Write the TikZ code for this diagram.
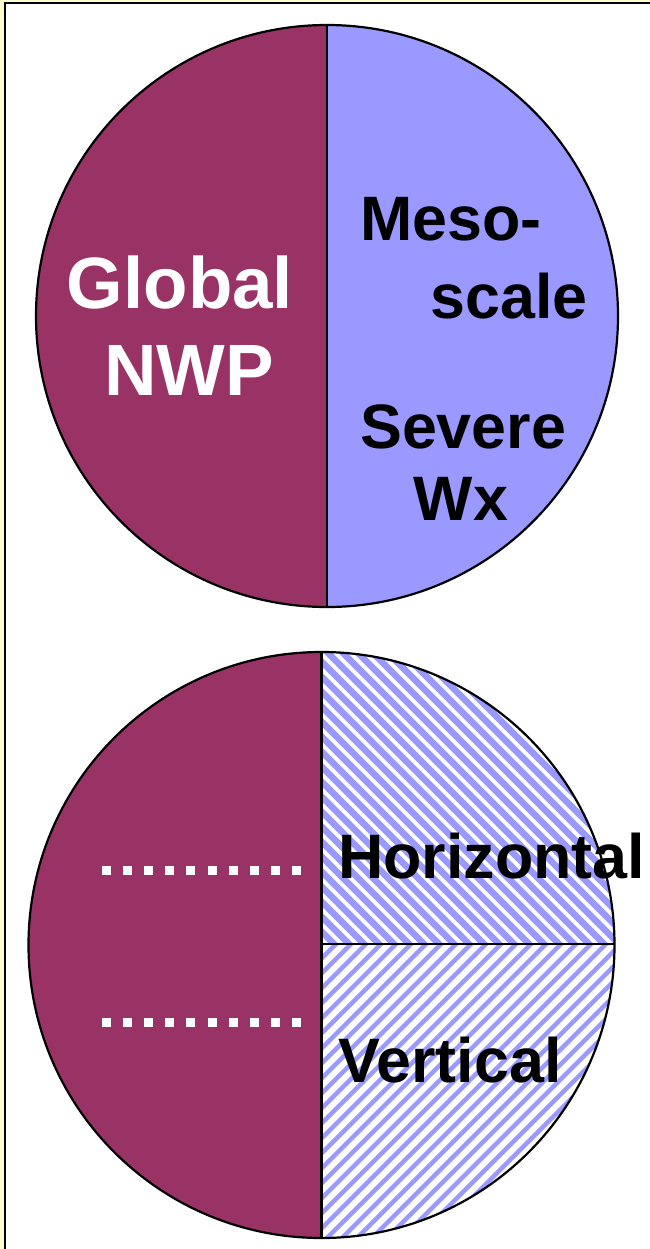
\documentclass[tikz,border=0pt]{standalone}
\usepackage{fontspec}
\setmainfont{Liberation Sans}
\usetikzlibrary{positioning}
\definecolor{plum}{HTML}{993366}
\definecolor{lavender}{HTML}{9999FF}
\definecolor{paleyellow}{HTML}{FFFFCC}
\tikzset{
  outline/.style={draw=black, line width=2.2bp},
  bigtext/.style={font=\fontsize{73}{80}\selectfont\bfseries, inner sep=0pt},
  midtext/.style={font=\fontsize{63}{70}\selectfont\bfseries, inner sep=0pt},
  hatchdense/.style={lavender, line width=6.6bp},
  hatchlight/.style={lavender, line width=4.4bp}
}

\begin{document}
\begin{tikzpicture}[x=1bp, y=-1bp]
    \useasboundingbox (0,0) rectangle (650,1249);
    \fill[paleyellow] (0,0) rectangle (650,1249);
    \filldraw[fill=white, draw=black, line width=2.5bp] (5.2,3.2) rectangle (680,1280);

    % upper disc
    \coordinate (top) at (327,316);
    \fill[plum] (327,25) arc[start angle=-90, end angle=-270, radius=291] -- cycle;
    \fill[lavender] (327,25) arc[start angle=-90, end angle=90, radius=291] -- cycle;
    \draw[outline] (top) circle[radius=291];
    \draw[outline] (327,25) -- (327,607);

    \node (global) [bigtext, white, anchor=base] at (180,308) {Global};
    \node (nwp) [bigtext, white, anchor=base] at (189,395) {NWP};
    \node (meso) [midtext, anchor=base west] at (360,240) {Meso-};
    \node (scale) [midtext, anchor=base east] at (588,318) {scale};
    \node (severe) [midtext, anchor=base west] at (360,448) {Severe};
    \node (wx) [midtext, anchor=base] at (461,520) {Wx};

    % lower disc
    \coordinate (bot) at (321.5,945);
    \fill[plum] (321.5,652) arc[start angle=-90, end angle=-270, radius=293] -- cycle;
    \begin{scope}
      \clip (bot) -- (321.5,652) arc[start angle=-90, end angle=0, radius=293] -- cycle;
      \foreach \a in {-330,-315,...,645}
        \draw[hatchdense] (\a,640) -- ++(320,320);
    \end{scope}
    \begin{scope}
      \clip (bot) -- (614.5,945) arc[start angle=0, end angle=90, radius=293] -- cycle;
      \foreach \a in {-330,-315,...,645}
        \draw[hatchlight] (\a,1250) -- ++(320,-320);
    \end{scope}
    \draw[outline] (bot) circle[radius=293];
    \draw[outline] (321.5,652) -- (321.5,1238);
    \draw[outline] (321.5,944) -- (614.5,944);

    % dotted rows
    \foreach \row in {870,1022}
      \foreach \i in {0,...,9}
        \fill[white] ({102+21.1*\i},\row-4.5) rectangle ++(9,9);

    \node (horiz) [midtext, anchor=base west] at (338,878) {Horizontal};
    \node (vert) [midtext, anchor=base west] at (338,1082) {Vertical};
\end{tikzpicture}
\end{document}
